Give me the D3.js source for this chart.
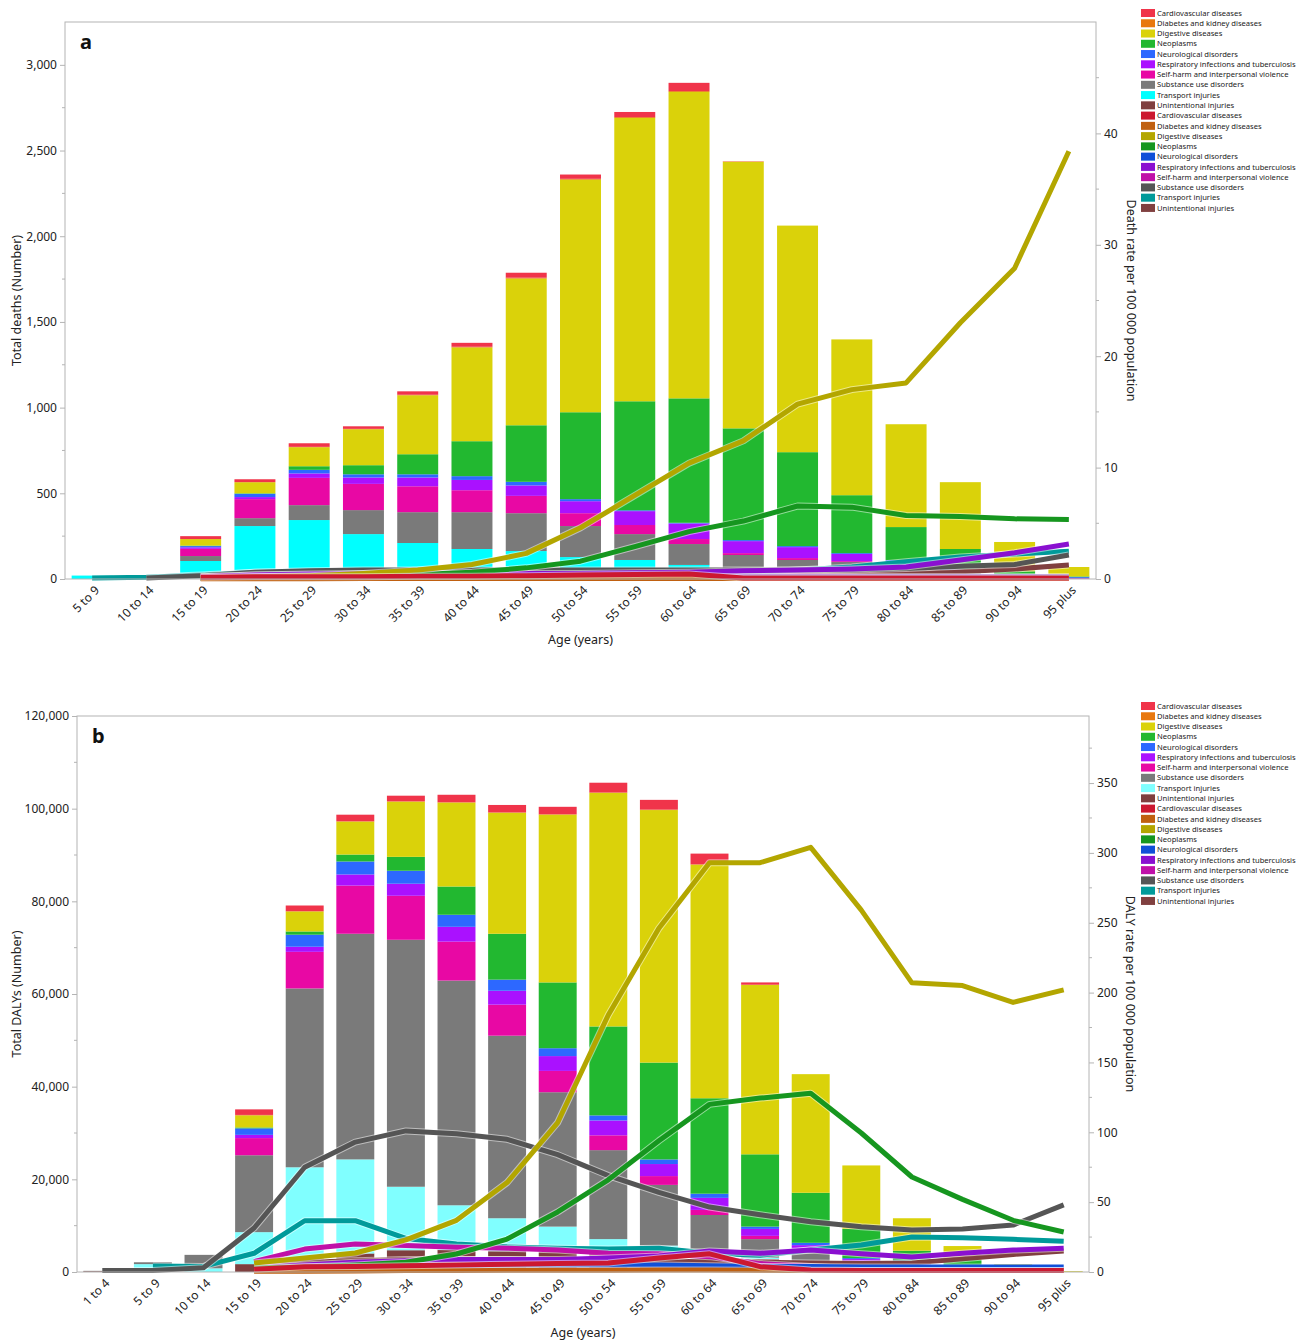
<!DOCTYPE html>
<html><head><meta charset="utf-8">
<script src="https://cdn.jsdelivr.net/npm/d3@7"></script>
<style>body{margin:0;background:#fff}text{font-family:"Noto Sans","Open Sans",sans-serif}</style>
</head><body><svg id="c" width="1311" height="1342"></svg>
<script>
// ---------- categories ----------
const agesA = ["5 to 9","10 to 14","15 to 19","20 to 24","25 to 29","30 to 34","35 to 39","40 to 44","45 to 49","50 to 54","55 to 59","60 to 64","65 to 69","70 to 74","75 to 79","80 to 84","85 to 89","90 to 94","95 plus"];
const agesB = ["1 to 4"].concat(agesA);
const causes = ["Cardiovascular diseases","Diabetes and kidney diseases","Digestive diseases","Neoplasms","Neurological disorders","Respiratory infections and tuberculosis","Self-harm and interpersonal violence","Substance use disorders","Transport injuries","Unintentional injuries"];

// ---------- panel a: total deaths (bars) ----------
const deathsCardio    = [0,0,17,17,21,15,20,23,29,25,30,48,1,0,0,0,0,0,0];
const deathsDiabetes  = [0,0,0,0,2,2,3,4,5,5,5,5,2,0,0,0,0,0,0];
const deathsDigestive = [0,0,38,65,111,210,344,547,856,1357,1653,1788,1555,1322,909,600,390,171,55];
const deathsNeoplasms = [0,0,3,3,21,53,117,204,330,507,636,726,652,548,338,192,115,20,4];
const deathsNeuro     = [0,0,7,19,21,19,19,22,21,12,5,4,6,6,5,8,8,5,5];
const deathsResp      = [0,0,9,12,26,37,51,60,61,70,81,91,70,64,42,22,12,5,3];
const deathsSelfharm  = [0,0,42,111,159,153,151,128,101,75,53,29,11,11,5,2,0,0,0];
const deathsSubstance = [0,0,29,46,87,140,180,215,221,181,151,122,82,56,49,35,15,5,0];
const deathsTransport = [20,17,102,301,309,217,150,120,108,78,61,32,8,5,5,4,0,0,0];
const deathsUnint     = [0,0,3,8,35,45,60,55,55,50,50,50,50,50,45,40,25,10,3];

// ---------- panel a: death rate per 100 000 (lines) ----------
const rateCardio    = [null,null,0.15,0.2,0.2,0.2,0.25,0.25,0.3,0.35,0.4,0.45,0.1,0.1,0.1,0.1,0.1,0.1,0.1];
const rateDiabetes  = [null,null,0.02,0.03,0.03,0.04,0.04,0.05,0.05,0.05,0.05,0.05,0.05,0.05,0.05,0.05,0.05,0.05,0.05];
const rateDigestive = [null,null,0.1,0.2,0.3,0.5,0.8,1.3,2.3,4.6,7.5,10.4,12.4,15.7,17.0,17.6,23.0,27.9,38.4];
const rateNeoplasms = [null,null,0.1,0.15,0.2,0.3,0.4,0.6,1.0,1.6,2.9,4.25,5.2,6.55,6.45,5.7,5.6,5.4,5.35];
const rateNeuro     = [null,null,0.05,0.1,0.1,0.1,0.1,0.1,0.12,0.13,0.14,0.15,0.15,0.15,0.15,0.15,0.15,0.15,0.15];
const rateResp      = [null,null,0.2,0.35,0.45,0.5,0.5,0.5,0.5,0.5,0.55,0.6,0.75,0.8,0.9,1.07,1.7,2.36,3.14];
const rateSelfharm  = [null,null,0.2,0.35,0.4,0.4,0.4,0.4,0.35,0.3,0.3,0.3,0.25,0.25,0.2,0.2,0.2,0.2,0.2];
const rateSubstance = [null,0.1,0.3,0.6,0.75,0.8,0.8,0.8,0.8,0.8,0.8,0.8,0.8,0.8,0.8,0.95,1.15,1.3,2.15];
const rateTransport = [0.1,0.15,0.35,0.6,0.65,0.6,0.55,0.5,0.5,0.5,0.5,0.5,0.55,0.8,1.07,1.55,1.97,2.24,2.5];
const rateUnint     = [null,null,0.1,0.3,0.35,0.4,0.4,0.4,0.4,0.4,0.4,0.4,0.4,0.4,0.45,0.5,0.65,0.9,1.25];

// ---------- panel b: total DALYs (bars) ----------
const dalyCardio    = [0,0,0,1200,1200,1400,1200,1600,1600,1600,2100,2100,2300,500,0,0,0,0,0,0];
const dalyDiabetes  = [0,0,0,100,100,100,100,100,100,100,100,100,100,0,0,0,0,0,0,0];
const dalyDigestive = [0,0,0,2600,4300,7100,11900,18100,26100,36200,50400,54500,50400,36600,25600,13700,7000,3000,850,150];
const dalyNeoplasms = [0,0,0,200,700,1500,3000,6100,9900,14200,19200,20900,20600,15600,10800,6300,2100,1100,300,0];
const dalyNeuro     = [0,0,0,1400,2600,2800,2800,2600,2400,1700,1100,1000,900,500,500,200,300,200,100,20];
const dalyResp      = [0,0,0,700,1100,2400,2600,3200,3000,3200,3200,2600,2600,1500,850,400,500,300,150,0];
const dalySelfharm  = [0,0,0,3700,7900,10400,9500,8400,6700,4600,3200,1900,1100,700,300,200,100,0,0,0];
const dalySubstance = [100,400,2900,16600,38600,48700,53300,48500,39400,29000,19200,13100,8500,4000,2250,1000,700,400,100,0];
const dalyTransport = [0,1700,800,6900,19600,20300,13700,9600,7100,5500,3100,2200,800,300,200,0,0,0,0,0];
const dalyUnint     = [150,0,0,1700,3000,4000,4700,4800,4500,4300,4000,3500,3000,2800,2200,1200,900,600,200,30];

// ---------- panel b: DALY rate per 100 000 (lines) ----------
const drateCardio    = [null,null,null,2,3.8,4,4.5,5,5.5,6,6.4,10,13,3.8,1.5,1,1,1,1,1];
const drateDiabetes  = [null,null,null,0.5,0.6,0.8,1,1,1.2,1.2,1.3,1.4,1.4,1.2,1,1,1,1,1,1];
const drateDigestive = [null,null,null,6.4,10,13.6,23,37,64,107,184,246,293,293,304,259,207,205,193,202];
const drateNeoplasms = [null,null,null,3,3.6,5,7,12.9,23.6,43,66,94,120,124.5,128,99.5,68,52,37,28.6];
const drateNeuro     = [null,null,null,2,3,3.5,4,4.5,5,5,5,5,4.5,4,4,3.5,3.5,3.5,3.5,3.5];
const drateResp      = [null,null,null,3,5,7,8,9,9,9,10,11.4,15,13.4,15.7,13,10.7,13.4,15.7,17];
const drateSelfharm  = [null,null,null,7.4,16.4,20,19,17.8,17,15.7,13.4,13,11,6,4,2,1.5,1.5,1.5,1.5];
const drateSubstance = [1,1,3,31.5,75,93,101,99,95,84,69,57,46.5,41,36,32.4,30,30.8,33.6,48];
const drateTransport = [null,4.3,4,13.4,36.7,36.7,24,20,18,17,16.4,17,13.4,12,15.7,19.3,25,24.6,23.4,22];
const drateUnint     = [null,null,null,5,7,8,9,9,9,8,6.4,7,7.8,7,6.4,6,6.4,9.5,12.6,15];

// ---------- tick labels ----------
const ticksDeaths = [0,500,1000,1500,2000,2500,3000];
const ticksDeathRate = [0,10,20,30,40];
const ticksDaly = [0,20000,40000,60000,80000,100000,120000];
const ticksDalyRate = [0,50,100,150,200,250,300,350];

// ---------- colours ----------
const barColA = ["#f0344a","#e8780e","#dad20a","#22b830","#2d68ff","#aa11ff","#e808a4","#7a7a7a","#00ffff","#7f3f3f"];
const barColB = ["#f0344a","#e8780e","#dad20a","#22b830","#2d68ff","#aa11ff","#e808a4","#7a7a7a","#80ffff","#7f3f3f"];
const lineCol = ["#cc1830","#c06010","#b3a600","#16961f","#1050d8","#8a10d0","#c010a8","#555555","#009a9a","#804040"];

const svg = d3.select("#c");

function panel(o){
  const g = svg.append("g");
  const x = d3.scaleBand().domain(o.ages).range([o.L,o.R]).paddingInner(o.pi).paddingOuter(o.pi/2);
  const y = d3.scaleLinear().domain([0,o.yMax]).range([o.B,o.T]);
  const y2 = d3.scaleLinear().domain([0,o.y2Max]).range([o.B,o.T]);
  const keys = causes.slice().reverse();
  const rows = o.ages.map((a,i)=>{const r={age:a}; causes.forEach((c,k)=>r[c]=o.bars[k][i]); return r;});
  const stack = d3.stack().keys(keys)(rows);
  stack.forEach(layer=>{
    const ci = causes.indexOf(layer.key);
    g.append("g").selectAll("rect").data(layer).join("rect")
      .attr("x",d=>x(d.data.age)).attr("width",x.bandwidth())
      .attr("y",d=>y(d[1])).attr("height",d=>Math.max(0,y(d[0])-y(d[1])))
      .attr("fill",o.barCol[ci]);
  });
  const line = d3.line().defined(d=>d!=null).x((d,i)=>x(o.ages[i])+x.bandwidth()/2).y(d=>y2(d));
  for(let k=causes.length-1;k>=0;k--){
    const vals = o.lines[k];
    g.append("path").attr("d",line(vals)).attr("fill","none").attr("stroke","#fff").attr("stroke-opacity",0.5).attr("stroke-width",7).attr("stroke-linejoin","round");
    g.append("path").attr("d",line(vals)).attr("fill","none").attr("stroke",lineCol[k]).attr("stroke-width",5).attr("stroke-linejoin","round");
  }
  g.append("rect").attr("x",o.L).attr("y",o.T).attr("width",o.R-o.L).attr("height",o.B-o.T).attr("fill","none").attr("stroke","#b4b4b4");
  const la = g.append("g").attr("transform",`translate(${o.L},0)`);
  la.call(d3.axisLeft(y).tickValues(o.ticksL).tickSize(5).tickFormat(d3.format(",")));
  const stepL = o.ticksL[1]-o.ticksL[0];
  const minorL = o.ticksL.map(t=>t+stepL/2).filter(v=>v<o.yMax);
  la.append("g").selectAll("line").data(minorL).join("line").attr("x1",0).attr("x2",-3).attr("y1",d=>y(d)).attr("y2",d=>y(d)).attr("stroke","#b4b4b4");
  const ra = g.append("g").attr("transform",`translate(${o.R},0)`);
  ra.call(d3.axisRight(y2).tickValues(o.ticksR).tickSize(5));
  const minorR = o.ticksR.map(t=>t+(o.ticksR[1]-o.ticksR[0])/2).filter(v=>v<o.y2Max);
  ra.append("g").selectAll("line").data(minorR).join("line").attr("x1",0).attr("x2",3).attr("y1",d=>y2(d)).attr("y2",d=>y2(d)).attr("stroke","#b4b4b4");
  [la,ra].forEach(a=>{a.select(".domain").remove(); a.selectAll(".tick line").attr("stroke","#b4b4b4"); a.selectAll("text").attr("font-size",12).attr("fill","#222").style("font-family",'"Noto Sans",sans-serif');});
  g.append("g").selectAll("text").data(o.ages).join("text")
    .attr("transform",d=>`translate(${x(d)+x.bandwidth()/2+5},${o.B+9}) rotate(-45)`)
    .attr("text-anchor","end").attr("font-size",12).attr("fill","#222").attr("dy","0.35em").text(d=>d);
  g.append("text").attr("transform",`translate(${o.ltX},${(o.T+o.B)/2}) rotate(-90)`).attr("text-anchor","middle").attr("font-size",12.5).attr("fill","#222").text(o.lTitle);
  g.append("text").attr("transform",`translate(${o.rtX},${(o.T+o.B)/2}) rotate(90)`).attr("text-anchor","middle").attr("font-size",12.5).attr("fill","#222").text(o.rTitle);
  g.append("text").attr("x",(o.L+o.R)/2).attr("y",o.xtY).attr("text-anchor","middle").attr("font-size",12.5).attr("fill","#222").text("Age (years)");
  g.append("text").attr("x",o.L+15).attr("y",o.T+27).attr("font-size",20).attr("font-weight","bold").attr("fill","#111").text(o.letter);
  const leg = g.append("g").attr("transform",`translate(1141,${o.legY})`);
  const items = causes.map((c,i)=>({c,col:o.barCol[i]})).concat(causes.map((c,i)=>({c,col:lineCol[i]})));
  items.forEach((it,i)=>{
    const yy = i*10.26;
    leg.append("rect").attr("x",0).attr("y",yy-4).attr("width",14).attr("height",8).attr("fill",it.col);
    leg.append("text").attr("x",16).attr("y",yy).attr("dy","0.35em").attr("font-size",7.6).attr("fill","#222").text(it.c);
  });
}

panel({ages:agesA,L:65,R:1096,T:22,B:579,pi:0.245,yMax:3250,y2Max:50,
  bars:[deathsCardio,deathsDiabetes,deathsDigestive,deathsNeoplasms,deathsNeuro,deathsResp,deathsSelfharm,deathsSubstance,deathsTransport,deathsUnint],
  lines:[rateCardio,rateDiabetes,rateDigestive,rateNeoplasms,rateNeuro,rateResp,rateSelfharm,rateSubstance,rateTransport,rateUnint],
  barCol:barColA,ticksL:ticksDeaths,ticksR:ticksDeathRate,lTitle:"Total deaths (Number)",rTitle:"Death rate per 100 000 population",
  ltX:21,rtX:1127,xtY:644,letter:"a",legY:13});
panel({ages:agesB,L:77,R:1089,T:716,B:1272,pi:0.25,yMax:120000,y2Max:398,
  bars:[dalyCardio,dalyDiabetes,dalyDigestive,dalyNeoplasms,dalyNeuro,dalyResp,dalySelfharm,dalySubstance,dalyTransport,dalyUnint],
  lines:[drateCardio,drateDiabetes,drateDigestive,drateNeoplasms,drateNeuro,drateResp,drateSelfharm,drateSubstance,drateTransport,drateUnint],
  barCol:barColB,ticksL:ticksDaly,ticksR:ticksDalyRate,lTitle:"Total DALYs (Number)",rTitle:"DALY rate per 100 000 population",
  ltX:21,rtX:1126,xtY:1337,letter:"b",legY:706});
</script></body></html>
